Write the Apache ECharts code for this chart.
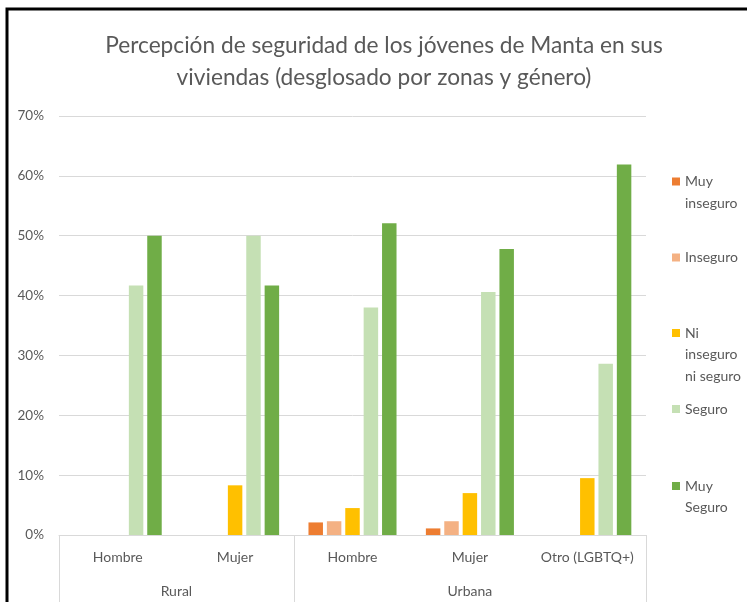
<!DOCTYPE html>
<html>
<head>
<meta charset="utf-8">
<script src="https://cdn.jsdelivr.net/npm/echarts@6/dist/echarts.min.js"></script>
<style>
  html, body { margin: 0; padding: 0; background: #fff; }
  #chart { width: 747px; height: 602px; }
</style>
</head>
<body>
<div id="chart"></div>
<script>
// Sub-categories (gender) and their zone groups
const categories = ['Hombre', 'Mujer', 'Hombre', 'Mujer', 'Otro (LGBTQ+)'];
const zones = ['Rural', 'Urbana'];
const zoneSpans = [2, 3]; // number of sub-categories in each zone

// Percentages per perception level
const muyInseguro = [0, 0, 2.1, 1.1, 0];
const inseguro = [0, 0, 2.3, 2.3, 0];
const niInseguroNiSeguro = [0, 8.3, 4.5, 7.0, 9.5];
const seguro = [41.7, 50.0, 38.0, 40.6, 28.6];
const muySeguro = [50.0, 41.7, 52.1, 47.8, 61.9];

const yTicks = [0, 10, 20, 30, 40, 50, 60, 70];

// legend entries: wrapped label and the vertical centre of the swatch
const seriesDefs = [
  { name: 'Muy inseguro', label: 'Muy\ninseguro', data: muyInseguro, color: '#ED7D31', swatchY: 181.5 },
  { name: 'Inseguro', label: 'Inseguro', data: inseguro, color: '#F4B183', swatchY: 257.5 },
  { name: 'Ni inseguro ni seguro', label: 'Ni\ninseguro\nni seguro', data: niInseguroNiSeguro, color: '#FFC000', swatchY: 333 },
  { name: 'Seguro', label: 'Seguro', data: seguro, color: '#C5E0B4', swatchY: 409 },
  { name: 'Muy Seguro', label: 'Muy\nSeguro', data: muySeguro, color: '#70AD47', swatchY: 486 }
];

const FONT = 'Lato, "Open Sans", sans-serif';
const TEXT = '#595959';
const GRID = '#D9D9D9';
const LINE_H = 21.5;

// zone boundaries and label centres on a 0..N value scale
const zoneEdges = [0];
const zoneCentres = [];
zoneSpans.forEach(s => {
  const start = zoneEdges[zoneEdges.length - 1];
  zoneEdges.push(start + s);
  zoneCentres.push(start + s / 2);
});

const chart = echarts.init(document.getElementById('chart'));

// One legend per entry; leading blank lines keep the swatch beside the first line
const legends = seriesDefs.map(d => {
  const n = d.label.split('\n').length;
  return {
    data: [d.name],
    orient: 'vertical',
    left: 672,
    top: d.swatchY - (2 * n - 1) * LINE_H / 2,
    padding: 0,
    itemWidth: 8,
    itemHeight: 8,
    itemGap: 0,
    icon: 'rect',
    selectedMode: false,
    formatter: () => '\n'.repeat(n - 1) + d.label,
    textStyle: {
      fontFamily: FONT,
      fontSize: 14,
      color: TEXT,
      lineHeight: LINE_H
    }
  };
});

chart.setOption({
  animation: false,
  title: {
    text: 'Percepción de seguridad de los jóvenes de Manta en sus\nviviendas (desglosado por zonas y género)',
    left: 379,
    textAlign: 'center',
    top: 25,
    textStyle: {
      fontFamily: FONT,
      fontWeight: 'normal',
      fontSize: 22.7,
      lineHeight: 32,
      color: TEXT
    }
  },
  legend: legends,
  grid: { left: 59, right: 101, top: 116, bottom: 67 },
  xAxis: [
    {
      type: 'category',
      data: categories,
      position: 'bottom',
      axisLine: { lineStyle: { color: GRID, width: 1 } },
      axisTick: { show: false },
      axisLabel: { fontFamily: FONT, fontSize: 14, color: TEXT, margin: 15, interval: 0 }
    },
    {
      type: 'value',
      min: 0,
      max: categories.length,
      position: 'bottom',
      splitLine: { show: false },
      axisLine: { show: false },
      axisTick: {
        show: true,
        customValues: zoneEdges,
        length: 67,
        lineStyle: { color: GRID, width: 1 }
      },
      axisLabel: {
        customValues: zoneCentres,
        formatter: v => zones[zoneCentres.indexOf(v)],
        fontFamily: FONT, fontSize: 14, color: TEXT, margin: 49
      }
    }
  ],
  yAxis: {
    type: 'value',
    min: yTicks[0],
    max: yTicks[yTicks.length - 1],
    interval: 10,
    axisLine: { show: false },
    axisTick: { show: false },
    splitLine: { lineStyle: { color: GRID, width: 1 } },
    axisLabel: { formatter: '{value}%', fontFamily: FONT, fontSize: 13.5, color: TEXT, margin: 15 }
  },
  series: seriesDefs.map(d => ({
    name: d.name,
    type: 'bar',
    xAxisIndex: 0,
    data: d.data,
    barGap: '27%',
    barCategoryGap: '25%',
    itemStyle: { color: d.color }
  })),
  graphic: [
    {
      type: 'polyline',
      shape: { points: [[7, 602], [7, 9], [747, 9]] },
      style: { stroke: '#000', lineWidth: 3, fill: null },
      silent: true
    }
  ]
});
</script>
</body>
</html>
